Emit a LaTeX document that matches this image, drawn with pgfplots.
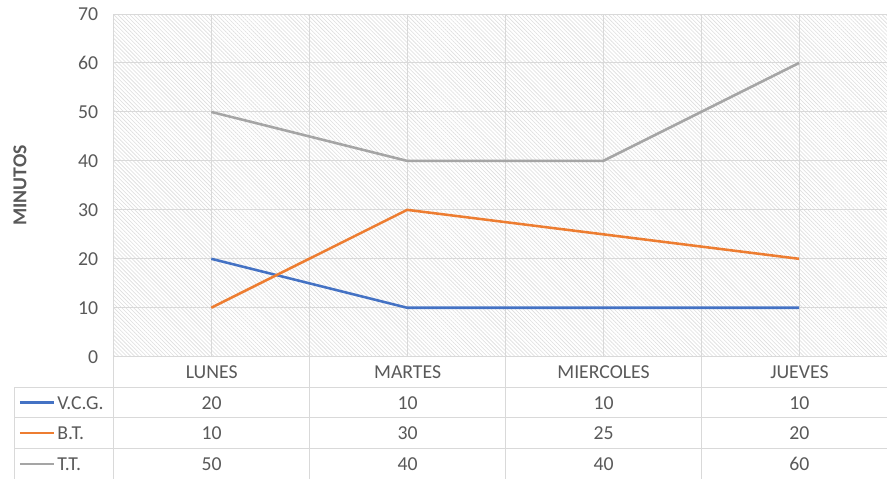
\documentclass[border=0pt]{standalone}
\usepackage{fontspec}
\setmainfont{Carlito}
\usepackage{pgfplots}
\pgfplotsset{compat=1.18}
\usepackage{pgfplotstable}
\usetikzlibrary{patterns.meta}
\definecolor{txt}{HTML}{595959}
\definecolor{grd}{HTML}{D9D9D9}
\definecolor{cb}{HTML}{4472C4}
\definecolor{co}{HTML}{ED7D31}
\definecolor{cg}{HTML}{A5A5A5}
\pgfplotstableread{
x VCG BT TT
0 20 10 50
1 10 30 40
2 10 25 40
3 10 20 60
}\data
\begin{document}
\begin{tikzpicture}[font=\fontsize{14.8}{17}\selectfont]
\begin{axis}[
  scale only axis, width=580.3pt, height=257pt,
  xmin=-0.5, xmax=3.449, ymin=0, ymax=70,
  xtick={-0.5,0.5,1.5,2.5}, minor xtick={0,1,2,3}, xticklabels={},
  ytick={0,10,...,70},
  grid=both,
  major grid style={grd, line width=0.75pt},
  minor grid style={grd, line width=0.75pt},
  axis line style={draw=none},
  major tick length=0pt, minor tick length=0pt,
  tick label style={txt, font=\fontsize{14.8}{17}\selectfont},
  yticklabel style={xshift=-7.8pt},
  /pgf/number format/assume math mode=true,
  ylabel={\textbf{MINUTOS}},
  ylabel style={txt, at={(axis description cs:-0.1206,0.5)}, anchor=center},
  axis background/.style={fill=white, postaction={pattern={Lines[angle=-45,distance=2.1pt,line width=0.45pt]}, pattern color=black!13}},
]
\addplot[cb, line width=1.9pt, line join=round] table[x=x,y=VCG]{\data};
\addplot[co, line width=1.9pt, line join=round] table[x=x,y=BT]{\data};
\addplot[cg, line width=1.9pt, line join=round] table[x=x,y=TT]{\data};
\end{axis}
\begin{scope}[x=0.75pt, y=-0.75pt, shift={(-84.975pt,267.525pt)}]
  \draw[grd, line width=0.75pt]
    (14.3,387.7) -- (887,387.7)
    (14.3,417.7) -- (887,417.7)
    (14.3,448.3) -- (887,448.3)
    (14.3,387.7) -- (14.3,479)
    (113.3,356.7) -- (113.3,479)
    (309.2,356.7) -- (309.2,479)
    (505.1,356.7) -- (505.1,479)
    (701,356.7) -- (701,479);
  \foreach \n [count=\i from 0] in {LUNES,MARTES,MIERCOLES,JUEVES}
    \node[txt] at (211.7+195.9*\i, 372.2) {\n};
  \foreach \a/\b/\c [count=\i from 0] in {20/10/50, 10/30/40, 10/25/40, 10/20/60} {
    \node[txt] at (211.7+195.9*\i, 402.7) {\a};
    \node[txt] at (211.7+195.9*\i, 433) {\b};
    \node[txt] at (211.7+195.9*\i, 463.8) {\c};
  }
  \draw[cb, line width=1.9pt] (20,402.7) -- (54,402.7);
  \draw[co, line width=1.9pt] (20,433) -- (54,433);
  \draw[cg, line width=1.9pt] (20,463.8) -- (54,463.8);
  \node[txt, anchor=west, inner sep=0pt] at (57,402.7) {V.C.G.};
  \node[txt, anchor=west, inner sep=0pt] at (57,433) {B.T.};
  \node[txt, anchor=west, inner sep=0pt] at (57,463.8) {T.T.};
  \pgfresetboundingbox
  \path (0,0) rectangle (887,479);
\end{scope}
\end{tikzpicture}
\end{document}
